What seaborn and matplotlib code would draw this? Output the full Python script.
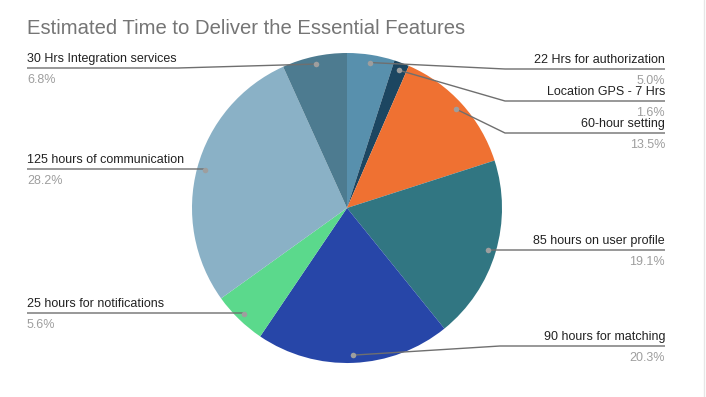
import numpy as np
import seaborn as sns
import matplotlib.pyplot as plt

# data (clockwise from 12 o'clock)
labels = ["22 Hrs for authorization", "Location GPS - 7 Hrs", "60-hour setting",
          "85 hours on user profile", "90 hours for matching", "25 hours for notifications",
          "125 hours of communication", "30 Hrs Integration services"]
hours = [22, 7, 60, 85, 90, 25, 125, 30]
colors = ["#5890ad", "#1c4661", "#ef7132", "#317682", "#2746a8", "#5bd98c", "#8ab1c6", "#4d7b90"]

# label layout: side, underline y (px), elbow x (px)
sides = ["r", "r", "r", "r", "r", "l", "l", "l"]
line_y = [69, 101, 133, 250, 346, 313, 169, 68]
elbow_x = [505, 505, 505, 487, 500, 244, 204, 178]

sns.set_theme(style="white")
plt.rcParams['font.family'] = ['Liberation Sans', 'DejaVu Sans']

W, H = 706, 397
fig = plt.figure(figsize=(W / 100, H / 100), dpi=100)
ax = fig.add_axes([0, 0, 1, 1])
cx, cy, r = 347, 208, 155

wedges, _ = ax.pie(hours, colors=colors, startangle=-90, counterclock=True,
                   center=(cx, cy), radius=r, wedgeprops=dict(linewidth=0))
ax.set_xlim(0, W)
ax.set_ylim(H, 0)
ax.set_aspect('equal')
ax.axis('off')

total = sum(hours)
for w, lab, v, side, ly, ex in zip(wedges, labels, hours, sides, line_y, elbow_x):
    ang = np.deg2rad((w.theta1 + w.theta2) / 2)
    dx = cx + 0.95 * r * np.cos(ang)
    dy = cy + 0.95 * r * np.sin(ang)
    if side == "r":
        xs, tx, ha = [dx, ex, 665], 665, "right"
    else:
        xs, tx, ha = [dx, ex, 27], 27, "left"
    ax.plot(xs, [dy, ly, ly], color="#6f6f6f", lw=1, solid_capstyle="butt")
    ax.plot(dx, dy, "o", color="#9e9e9e", ms=4, mec="none")
    ax.text(tx, ly - 3, lab, ha=ha, va="bottom", fontsize=9, color="#222222")
    ax.text(tx, ly + 6, f"{100 * v / total:.1f}%", ha=ha, va="top", fontsize=9, color="#9e9e9e")

ax.text(27, 28, "Estimated Time to Deliver the Essential Features", ha="left", va="center",
        fontsize=14.6, color="#757575")
ax.plot([704, 704], [0, H], color="#e6e6e6", lw=1)

fig.savefig("out.png", dpi=100)
